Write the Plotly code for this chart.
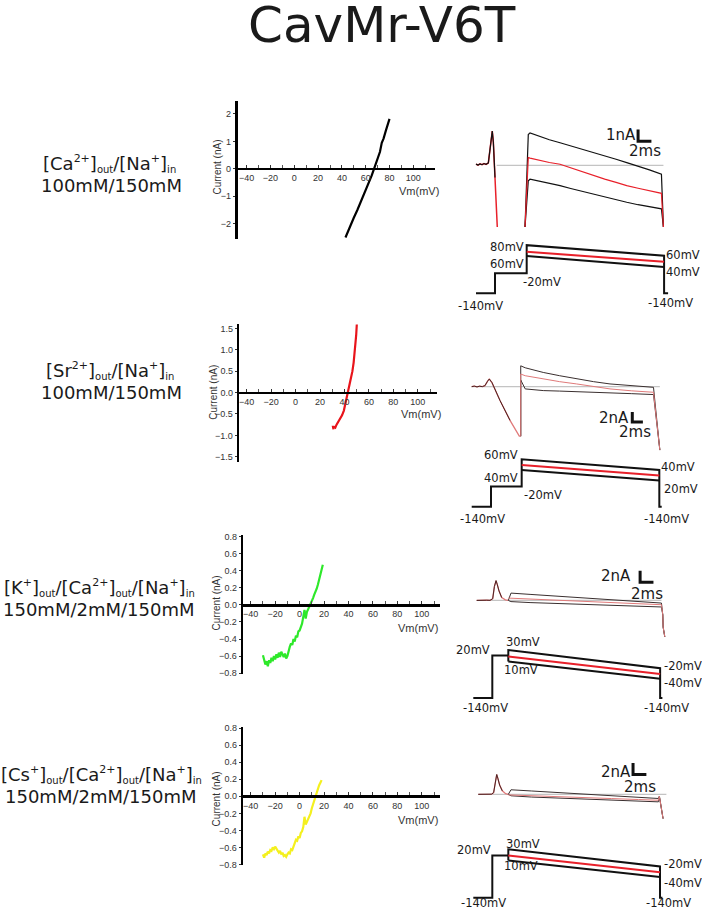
import plotly.graph_objects as go

# ---------------- data ----------------
title_text = "CavMr-V6T"


def sup(t):
    return f"<sup><span style='font-size:11px'>{t}</span></sup>"


def sub(t):
    return f"<sub><span style='font-size:10px'>{t}</span></sub>"


row_line1 = [
    "[Ca" + sup("2+") + "]" + sub("out") + "/[Na" + sup("+") + "]" + sub("in"),
    "[Sr" + sup("2+") + "]" + sub("out") + "/[Na" + sup("+") + "]" + sub("in"),
    "[K" + sup("+") + "]" + sub("out") + "/[Ca" + sup("2+") + "]" + sub("out") + "/[Na" + sup("+") + "]" + sub("in"),
    "[Cs" + sup("+") + "]" + sub("out") + "/[Ca" + sup("2+") + "]" + sub("out") + "/[Na" + sup("+") + "]" + sub("in"),
]
row_line2 = ["100mM/150mM", "100mM/150mM", "150mM/2mM/150mM", "150mM/2mM/150mM"]

iv_xticks = [-40, -20, 0, 20, 40, 60, 80, 100]
iv1_yticks = [-2, -1, 0, 1, 2]
iv2_yticks = [-1.5, -1.0, -0.5, 0.0, 0.5, 1.0, 1.5]
iv34_yticks = [-0.8, -0.6, -0.4, -0.2, 0.0, 0.2, 0.4, 0.6, 0.8]

# IV curves (mV, nA)
iv1_v = [43, 45, 47.7, 50, 53, 55, 58, 60, 62.5, 65, 67, 69, 70, 72, 73.5, 75, 77, 79, 80]
iv1_i = [-2.5, -2.28, -2.0, -1.78, -1.5, -1.3, -1.0, -0.78, -0.5, -0.25, 0.0, 0.25, 0.42, 0.62,
         0.95, 1.1, 1.4, 1.68, 1.82]

iv2_v = [31, 30.6, 31.5, 32.5, 33.5, 35, 36.5, 38, 39.5, 41, 42.7, 44, 45.5, 46.5, 47.5, 48.3,
         49, 49.6, 50.1]
iv2_i = [-0.86, -0.80, -0.80, -0.82, -0.75, -0.68, -0.60, -0.53, -0.42, -0.25, 0.0, 0.17, 0.35,
         0.5, 0.7, 0.9, 1.1, 1.35, 1.6]

iv3_v = list(range(-30, 20))
iv3_i = [-0.59, -0.64, -0.70, -0.66, -0.72, -0.65, -0.68, -0.62, -0.66, -0.60,
         -0.64, -0.58, -0.62, -0.56, -0.61, -0.55, -0.59, -0.61, -0.57, -0.63,
         -0.60, -0.53, -0.49, -0.45, -0.47, -0.40, -0.43, -0.36, -0.38, -0.31,
         -0.30, -0.26, -0.22, -0.14, -0.06, -0.16, -0.08, -0.05, -0.02, 0.01,
         0.04, 0.08, 0.12, 0.15, 0.19, 0.24, 0.29, 0.35, 0.41, 0.47]

iv4_v = list(range(-30, 19))
iv4_i = [-0.68, -0.72, -0.67, -0.69, -0.65, -0.67, -0.63, -0.64, -0.60, -0.62,
         -0.59, -0.61, -0.63, -0.66, -0.64, -0.68, -0.66, -0.70, -0.69, -0.71,
         -0.68, -0.66, -0.67, -0.62, -0.63, -0.58, -0.55, -0.51, -0.52, -0.47,
         -0.49, -0.43, -0.41, -0.36, -0.24, -0.33, -0.30, -0.27, -0.22, -0.20,
         -0.14, -0.09, -0.04, 0.01, 0.05, 0.09, 0.13, 0.16, 0.19]

iv_v = [iv1_v, iv2_v, iv3_v, iv4_v]
iv_i = [iv1_i, iv2_i, iv3_i, iv4_i]
iv_colors = ["#000000", "#e8141b", "#2ee82a", "#f4f01e"]

# Current traces (ms, nA) and protocols (ms, schematic level)
p1_tail_t = [0.0, 0.3, 0.6, 0.9, 1.2, 1.5, 1.85, 2.1, 2.3, 2.44, 2.6, 2.85, 3.0, 3.19]
p1_tail_i = [0.10, 0.02, 0.12, 0.05, 0.15, 0.08, 0.20, 1.2, 2.4, 2.94, 2.0, -1.05, -3.0, -5.32]
p1_step_t = [7.35, 7.84, 8.1, 9.5, 11.0, 12.6, 14.2, 15.9, 17.6, 19.3, 21.0, 22.6, 24.3, 26.0, 27.8, 28.1]
p1_top_i = [-5.32, 2.65, 2.79, 2.50, 2.20, 1.94, 1.68, 1.37, 1.09, 0.80, 0.52, 0.23, -0.06, -0.40, -0.77, -5.32]
p1_red_i = [-5.32, 0.66, 0.62, 0.42, 0.24, 0.09, -0.22, -0.56, -0.91, -1.20, -1.48, -1.76, -1.98, -2.18, -2.42, -5.32]
p1_bot_i = [-5.32, -1.33, -1.20, -1.36, -1.56, -1.76, -2.00, -2.25, -2.48, -2.72, -2.96, -3.19, -3.40, -3.58, -3.76, -5.32]
p1_base_t = [3.1, 28.1]
p1_bar_t = [24.3, 24.3, 26.3]
p1_bar_i = [3.08, 2.08, 2.08]
p1_proto_t = [0, 2.85, 2.85, 7.6, 7.6, 28.2, 28.2, 28.8]
p1_proto_lv = [0, 0, 20, 20, 48.4, 37.7, 0, 0]
p1_ramp_t = [7.6, 28.2]
p1_low_lv = [37.4, 26.4]
p1_mid_lv = [41.7, 31.7]

p2_tail_t = [0, 0.5, 1.0, 1.5, 2.0, 2.5, 3.0, 3.32, 3.83, 5.34, 7.23, 8.98, 9.25]
p2_tail_i = [0.0, 0.1, -0.05, 0.08, 0.0, 0.2, 1.1, 1.54, 0.8, -2.8, -6.8, -10.0, -10.0]
p2_step_t = [9.25, 9.25, 10.1, 13.5, 16.6, 19.8, 23.0, 26.1, 30.2, 34.3, 35.5]
p2_top_i = [-10.0, 4.2, 3.8, 2.86, 2.2, 1.54, 1.0, 0.54, 0.2, -0.14, -12.8]
p2_red_i = [-10.0, 2.54, 2.2, 1.54, 1.0, 0.54, 0.0, -0.46, -0.85, -1.14, -12.8]
p2_bot_i = [-10.0, 1.34, -0.46, -0.8, -0.9, -1.0, -1.12, -1.26, -1.42, -1.6, -12.8]
p2_base_t = [0, 35.5]
p2_bar_t = [30.3, 30.3, 32.3]
p2_bar_i = [-5.14, -7.14, -7.14]
p2_proto_t = [0, 3.64, 3.64, 9.43, 9.43, 35.4, 35.4, 35.85]
p2_proto_lv = [0, 0, 20.6, 20.6, 48, 37.3, 0, 0]
p2_ramp_t = [9.43, 35.4]
p2_low_lv = [37.3, 26.6]
p2_mid_lv = [42.3, 31.6]

p3_tail_t = [0, 0.5, 1.0, 1.5, 2.0, 2.4, 2.65, 2.9, 3.1, 3.34, 3.75, 4.3, 4.74]
p3_tail_i = [0, 0.05, -0.03, 0.04, 0.02, 0.3, 2.4, 3.43, 2.7, 1.66, 0.5, 0.1, 0.0]
p3_step_t = [4.74, 5.14, 8.0, 12.0, 16.0, 20.0, 24.0, 27.7, 27.9, 28.0, 27.95, 28.2]
p3_top_i = [0.0, 1.27, 1.05, 0.75, 0.44, 0.14, -0.17, -0.45, -2.5, -3.9, -4.6, -6.3]
p3_red_i = [0.41, 0.39, 0.25, 0.05, -0.15, -0.35, -0.55, -0.74, -2.5, -3.9, -4.6, -6.3]
p3_bot_i = [0.0, -0.20, -0.37, -0.52, -0.68, -0.83, -0.99, -1.13, -2.5, -3.9, -4.6, -6.3]
p3_base_t = [0, 27.7]
p3_bar_t = [24.5, 24.5, 26.5]
p3_bar_i = [5.16, 3.16, 3.16]
p3_proto_t = [-0.51, 2.34, 2.34, 4.74, 4.74, 4.74, 27.5, 27.5, 27.84]
p3_proto_lv = [0, 0, 42.7, 42.7, 36.7, 48.3, 30, 0, 0]
p3_ramp_t = [4.74, 27.5]
p3_low_lv = [36.7, 19.3]
p3_mid_lv = [41.7, 24.0]

p4_tail_t = [0, 0.5, 1.0, 1.5, 2.0, 2.3, 2.55, 2.76, 2.95, 3.2, 3.6, 4.1, 4.5]
p4_tail_i = [0, 0.04, -0.02, 0.05, 0.03, 0.3, 2.4, 3.43, 2.7, 1.6, 0.6, 0.1, 0.0]
p4_step_t = [4.5, 4.9, 8.0, 12.0, 16.0, 20.0, 24.0, 27.0, 27.15, 27.7]
p4_top_i = [0.0, 0.79, 0.58, 0.31, 0.03, -0.24, -0.51, -0.72, -0.34, -4.2]
p4_red_i = [-0.10, -0.12, -0.24, -0.41, -0.57, -0.73, -0.90, -1.02, -0.34, -4.2]
p4_bot_i = [0.0, -0.25, -0.47, -0.64, -0.82, -1.00, -1.17, -1.30, -0.34, -4.2]
p4_base_t = [0, 28.2]
p4_bar_t = [23.2, 23.2, 25.2]
p4_bar_i = [5.43, 3.43, 3.43]
p4_proto_t = [-0.75, 2.1, 2.1, 4.5, 4.5, 4.5, 27.24, 27.24, 27.6]
p4_proto_lv = [0, 0, 42.7, 42.7, 37.7, 49, 31.7, 0, 0]
p4_ramp_t = [4.5, 27.24]
p4_low_lv = [37.7, 21.0]
p4_mid_lv = [42.7, 25.7]

panels = [
    dict(tail_t=p1_tail_t, tail_i=p1_tail_i, step_t=p1_step_t, top=p1_top_i, red=p1_red_i, bot=p1_bot_i,
         base_t=p1_base_t, bar_t=p1_bar_t, bar_i=p1_bar_i, proto_t=p1_proto_t, proto_lv=p1_proto_lv,
         ramp_t=p1_ramp_t, low=p1_low_lv, mid=p1_mid_lv),
    dict(tail_t=p2_tail_t, tail_i=p2_tail_i, step_t=p2_step_t, top=p2_top_i, red=p2_red_i, bot=p2_bot_i,
         base_t=p2_base_t, bar_t=p2_bar_t, bar_i=p2_bar_i, proto_t=p2_proto_t, proto_lv=p2_proto_lv,
         ramp_t=p2_ramp_t, low=p2_low_lv, mid=p2_mid_lv),
    dict(tail_t=p3_tail_t, tail_i=p3_tail_i, step_t=p3_step_t, top=p3_top_i, red=p3_red_i, bot=p3_bot_i,
         base_t=p3_base_t, bar_t=p3_bar_t, bar_i=p3_bar_i, proto_t=p3_proto_t, proto_lv=p3_proto_lv,
         ramp_t=p3_ramp_t, low=p3_low_lv, mid=p3_mid_lv),
    dict(tail_t=p4_tail_t, tail_i=p4_tail_i, step_t=p4_step_t, top=p4_top_i, red=p4_red_i, bot=p4_bot_i,
         base_t=p4_base_t, bar_t=p4_bar_t, bar_i=p4_bar_i, proto_t=p4_proto_t, proto_lv=p4_proto_lv,
         ramp_t=p4_ramp_t, low=p4_low_lv, mid=p4_mid_lv),
]

scale_labels = [("1nA", "2ms"), ("2nA", "2ms"), ("2nA", "2ms"), ("2nA", "2ms")]
proto_labels = [
    [("80mV", "r"), ("60mV", "r"), ("-20mV", "l"), ("-140mV", "l"), ("60mV", "l"), ("40mV", "l"), ("-140mV", "l")],
    [("60mV", "r"), ("40mV", "r"), ("-20mV", "l"), ("-140mV", "l"), ("40mV", "l"), ("20mV", "l"), ("-140mV", "l")],
    [("20mV", "r"), ("30mV", "l"), ("10mV", "l"), ("-20mV", "l"), ("-40mV", "l"), ("-140mV", "l"), ("-140mV", "l")],
    [("20mV", "r"), ("30mV", "l"), ("10mV", "l"), ("-20mV", "l"), ("-40mV", "l"), ("-140mV", "l"), ("-140mV", "l")],
]

# ---------------- layout geometry (pixels) ----------------
W, H = 702, 916
SANS = "DejaVu Sans"
ARIAL = "Liberation Sans, Arial"


def px_x(p):
    return p / W


def px_y(p):
    return 1 - p / H


iv_geom = [
    dict(xdom=(237.5, 435), x0=294.3, xs=1.19, ydom=(98, 237), y0=166.3, ys=27.7, ticks=iv1_yticks, fmt="d",
         ytitle=(218, 165), vm=(419, 189)),
    dict(xdom=(239.3, 436.7), x0=295.6, xs=1.222, ydom=(323.3, 461.7), y0=392, ys=43.2, ticks=iv2_yticks, fmt=".1f",
         ytitle=(213.5, 391.7), vm=(421, 414)),
    dict(xdom=(243.3, 440), x0=299.6, xs=1.222, ydom=(536, 676), y0=606.2, ys=86, ticks=iv34_yticks, fmt=".1f",
         ytitle=(216.7, 604), vm=(418, 630)),
    dict(xdom=(243.3, 440), x0=299.6, xs=1.222, ydom=(729.5, 869), y0=799.3, ys=86, ticks=iv34_yticks, fmt=".1f",
         ytitle=(216.7, 801.7), vm=(418, 823.3)),
]

panel_geom = [
    dict(x0=476, xs=6.67, tr_dom=(112, 232), tr_y0=162.7, tr_ys=11.7, pr_dom=(236, 300), pr_y0=291.7),
    dict(x0=471.7, xs=5.3, tr_dom=(340, 452), tr_y0=386, tr_ys=5.0, pr_dom=(452, 512), pr_y0=507.3),
    dict(x0=476.7, xs=6.67, tr_dom=(560, 645), tr_y0=601.7, tr_ys=5.83, pr_dom=(646, 705), pr_y0=700),
    dict(x0=478.3, xs=6.67, tr_dom=(755, 840), tr_y0=797.3, tr_ys=5.83, pr_dom=(843, 905), pr_y0=901.7),
]
panel_xdom = (455, 702)

scale_pos = [((637, 131.7), (645, 148)), ((630, 417.3), (635, 431.7)),
             ((632, 576.7), (646.7, 595)), ((632, 775), (640, 790))]
proto_pos = [
    [(525, 245), (525, 262.3), (521.7, 280), (457, 304.5), (665, 253.3), (665, 270.7), (647, 302)],
    [(519.3, 455), (519.3, 477.7), (522.7, 495), (459, 520), (660, 466.7), (662.7, 489.3), (643, 519.3)],
    [(491, 651.7), (505, 644), (503, 671.7), (663, 668), (663, 685), (462, 710), (642.7, 710)],
    [(492, 853.3), (505, 847.3), (503, 870), (663, 868), (663, 886.7), (460, 906.7), (645, 906.7)],
]
row_pos = [((110, 160.7), (111.5, 183)), ((110, 370), (111.5, 392)),
           ((99, 589), (99, 611)), ((101, 777), (101, 799))]

fig = go.Figure()
layout = dict(width=W, height=H, margin=dict(l=0, r=0, t=0, b=0, pad=0),
              paper_bgcolor="white", plot_bgcolor="white", showlegend=False)
annotations = []


def ann(text, x, y, size, xanchor="center", yanchor="middle", family=SANS, color="#1a1a1a", angle=0):
    annotations.append(dict(text=text, x=px_x(x), y=px_y(y), xref="paper", yref="paper",
                            xanchor=xanchor, yanchor=yanchor, showarrow=False, textangle=angle,
                            borderpad=0, font=dict(family=family, size=size, color=color)))


def axname(n):
    return ("xaxis" if n == 1 else f"xaxis{n}"), ("yaxis" if n == 1 else f"yaxis{n}")


def axref(n):
    return ("x" if n == 1 else f"x{n}"), ("y" if n == 1 else f"y{n}")


# ---------------- IV plots ----------------
for k, g in enumerate(iv_geom):
    n = k + 1
    xn, yn = axname(n)
    xr, yr = axref(n)
    xrange_ = [(g["xdom"][0] - g["x0"]) / g["xs"], (g["xdom"][1] - g["x0"]) / g["xs"]]
    yrange_ = [(g["y0"] - g["ydom"][1]) / g["ys"], (g["y0"] - g["ydom"][0]) / g["ys"]]
    tickfont = dict(family=ARIAL, size=9, color="#333333")
    layout[xn] = dict(domain=[px_x(g["xdom"][0]), px_x(g["xdom"][1])], range=xrange_,
                      anchor="free", position=px_y(g["y0"]), showline=True, linewidth=2.6,
                      linecolor="black", showgrid=False, zeroline=False, ticks="inside", ticklen=3,
                      tickcolor="#333", tickwidth=1, tickmode="array", tickvals=iv_xticks,
                      tickfont=tickfont,
                      minor=dict(tickmode="linear", tick0=0, dtick=10, ticks="inside", ticklen=3,
                                 tickcolor="#555", tickwidth=1))
    layout[yn] = dict(domain=[px_y(g["ydom"][1]), px_y(g["ydom"][0])], range=yrange_,
                      anchor=xr, showline=True, linewidth=2.6, linecolor="black", showgrid=False,
                      zeroline=False, ticks="outside", ticklen=2, tickcolor="#333", tickwidth=1,
                      tickmode="array", tickvals=g["ticks"], tickformat=g["fmt"], tickfont=tickfont)
    fig.add_trace(go.Scatter(x=iv_v[k], y=iv_i[k], mode="lines",
                             line=dict(color=iv_colors[k], width=2.2), xaxis=xr, yaxis=yr,
                             hoverinfo="skip"))
    ann("Current (nA)", g["ytitle"][0], g["ytitle"][1], 10, family=ARIAL, color="#333", angle=-90)
    ann("Vm(mV)", g["vm"][0], g["vm"][1], 11, family=ARIAL, color="#333")

# ---------------- trace + protocol panels ----------------
for k, (p, g) in enumerate(zip(panels, panel_geom)):
    nt = 5 + 2 * k
    npr = 6 + 2 * k
    xrange_ = [(panel_xdom[0] - g["x0"]) / g["xs"], (panel_xdom[1] - g["x0"]) / g["xs"]]
    hidden = dict(visible=False, showgrid=False, zeroline=False, fixedrange=True)
    xn, yn = axname(nt)
    xr, yr = axref(nt)
    layout[xn] = dict(domain=[px_x(panel_xdom[0]), px_x(panel_xdom[1])], range=xrange_, anchor=yr, **hidden)
    layout[yn] = dict(domain=[px_y(g["tr_dom"][1]), px_y(g["tr_dom"][0])],
                      range=[(g["tr_y0"] - g["tr_dom"][1]) / g["tr_ys"], (g["tr_y0"] - g["tr_dom"][0]) / g["tr_ys"]],
                      anchor=xr, **hidden)
    first = (k == 0)
    blk = "#111111" if first else "#3a2f2f"
    redc = "#e8202a" if first else "#e07a7a"
    tailc = "#111111" if first else "#4a2424"
    lw = 1.2 if first else 1.0
    fig.add_trace(go.Scatter(x=p["base_t"], y=[0, 0], mode="lines", line=dict(color="#c4c4c4", width=1.2),
                             xaxis=xr, yaxis=yr, hoverinfo="skip"))
    fig.add_trace(go.Scatter(x=p["tail_t"], y=p["tail_i"], mode="lines", line=dict(color=redc, width=lw + 0.3),
                             xaxis=xr, yaxis=yr, hoverinfo="skip"))
    fig.add_trace(go.Scatter(x=p["tail_t"][:-2], y=p["tail_i"][:-2], mode="lines",
                             line=dict(color=tailc, width=lw), xaxis=xr, yaxis=yr, hoverinfo="skip"))
    for key, col in (("bot", blk), ("top", blk), ("red", redc)):
        fig.add_trace(go.Scatter(x=p["step_t"], y=p[key], mode="lines", line=dict(color=col, width=lw),
                                 xaxis=xr, yaxis=yr, hoverinfo="skip"))
    fig.add_trace(go.Scatter(x=p["bar_t"], y=p["bar_i"], mode="lines", line=dict(color="#111", width=3),
                             xaxis=xr, yaxis=yr, hoverinfo="skip"))
    xn, yn = axname(npr)
    xr, yr = axref(npr)
    layout[xn] = dict(domain=[px_x(panel_xdom[0]), px_x(panel_xdom[1])], range=xrange_, anchor=yr, **hidden)
    layout[yn] = dict(domain=[px_y(g["pr_dom"][1]), px_y(g["pr_dom"][0])],
                      range=[g["pr_y0"] - g["pr_dom"][1], g["pr_y0"] - g["pr_dom"][0]],
                      anchor=xr, **hidden)
    fig.add_trace(go.Scatter(x=p["proto_t"], y=p["proto_lv"], mode="lines",
                             line=dict(color="#111", width=2), xaxis=xr, yaxis=yr, hoverinfo="skip"))
    fig.add_trace(go.Scatter(x=p["ramp_t"], y=p["low"], mode="lines",
                             line=dict(color="#111", width=2), xaxis=xr, yaxis=yr, hoverinfo="skip"))
    fig.add_trace(go.Scatter(x=p["ramp_t"], y=p["mid"], mode="lines",
                             line=dict(color="#e8202a", width=2), xaxis=xr, yaxis=yr, hoverinfo="skip"))
    (s1, s2), (q1, q2) = scale_labels[k], scale_pos[k]
    ann(s1, q1[0], q1[1], 15, xanchor="right")
    ann(s2, q2[0], q2[1], 15)
    for (txt, side), (x, y) in zip(proto_labels[k], proto_pos[k]):
        ann(txt, x, y, 11.5, xanchor="right" if side == "r" else "left")

# ---------------- left labels and title ----------------
for k in range(4):
    (a, b) = row_pos[k]
    ann(row_line1[k], a[0], a[1], 18)
    ann(row_line2[k], b[0], b[1], 18)

ann(title_text, 381.5, -9, 50, yanchor="top", color="#1a1a1a")

layout["annotations"] = annotations
fig.update_layout(**layout)
fig.write_html("out.html", config={"displayModeBar": False, "staticPlot": True},
               post_script="document.body.style.margin='0';document.body.style.overflow='hidden';")
